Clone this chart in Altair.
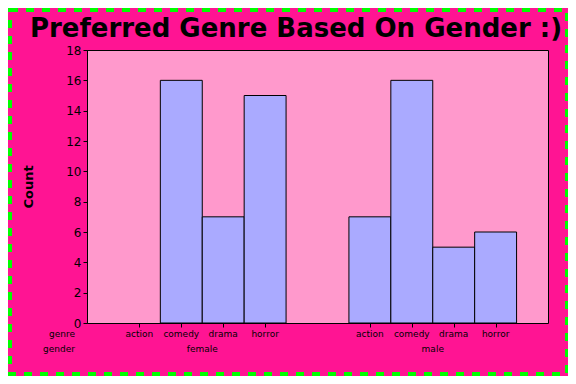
import altair as alt
import pandas as pd

genders = ["female", "female", "female", "female", "male", "male", "male", "male"]
genres = ["action", "comedy", "drama", "horror", "action", "comedy", "drama", "horror"]
counts = [0, 16, 7, 15, 7, 16, 5, 6]
genre_order = ["action", "comedy", "drama", "horror"]
gender_offset = {"female": 1.25, "male": 6.75}
title_text = "Preferred Genre Based On Gender :)"

df = pd.DataFrame({"gender": genders, "genre": genres, "count": counts})
df["pos"] = [gender_offset[g] + genre_order.index(r) for g, r in zip(genders, genres)]
df["x0"] = df["pos"] - 0.5
df["x1"] = df["pos"] + 0.5

W, H = 461, 273
FONT = "DejaVu Sans"

xscale = alt.Scale(domain=[0, 11], nice=False, zero=False)
yscale = alt.Scale(domain=[0, 18], nice=False)

base = alt.Chart(df)

bars = base.transform_filter("datum.count > 0").mark_bar(
    fill="#AAAAFF", stroke="black", strokeWidth=1
).encode(
    x=alt.X("x0:Q", scale=xscale,
            axis=alt.Axis(values=list(df["pos"]), labels=False, title=None, grid=False,
                          domain=False, tickColor="black", tickSize=4)),
    x2="x1:Q",
    y=alt.Y("count:Q", scale=yscale,
            axis=alt.Axis(values=list(range(0, 19, 2)), title="Count", grid=False,
                          domainColor="black", tickColor="black", tickSize=4,
                          labelFont=FONT, labelFontSize=12, labelColor="black", labelPadding=2,
                          titleFont=FONT, titleFontSize=13, titleFontWeight="bold",
                          titleColor="black", titlePadding=30)),
    y2=alt.datum(0),
)

genre_text = base.mark_text(font=FONT, fontSize=9, color="black", baseline="middle").encode(
    x=alt.X("pos:Q", scale=xscale),
    y=alt.value(H + 11),
    text="genre:N",
)

gender_text = base.transform_aggregate(
    mpos="mean(pos)", groupby=["gender"]
).mark_text(font=FONT, fontSize=9, color="black", baseline="middle").encode(
    x=alt.X("mpos:Q", scale=xscale),
    y=alt.value(H + 26),
    text="gender:N",
)

row_labels = pd.DataFrame({"lab": ["genre", "gender"], "row": [0, 1]})
row_text = alt.Chart(row_labels).mark_text(
    font=FONT, fontSize=9, color="black", baseline="middle", align="right"
).encode(
    x=alt.value(-12),
    y=alt.Y("row:Q", scale=alt.Scale(domain=[0, 1], range=[H + 11, H + 26]), axis=None),
    text="lab:N",
)

title_df = pd.DataFrame({"t": [title_text]})
title_mark = alt.Chart(title_df).mark_text(
    font=FONT, fontSize=26, fontWeight="bold", color="black", baseline="middle", align="center"
).encode(
    x=alt.value(209), y=alt.value(-21), text="t:N"
)

border = alt.Chart(row_labels).mark_rect(
    fill=None, stroke="#00FF00", strokeWidth=4, strokeDash=[8, 8], clip=False
).encode(
    x=alt.value(-77), x2=alt.value(W + 19),
    y=alt.value(-40), y2=alt.value(H + 51),
)

chart = alt.layer(bars, genre_text, gender_text, row_text, title_mark, border).resolve_scale(
    y="independent"
).properties(
    width=W, height=H,
    background="#FF1493",
    autosize=alt.AutoSizeParams(type="none"),
    padding={"left": 79, "top": 42, "right": 20, "bottom": 53},
).configure_view(
    fill="#FF99CC", stroke="black", strokeWidth=1
)

chart.save("out.html", embed_options={"renderer": "svg", "actions": False})
